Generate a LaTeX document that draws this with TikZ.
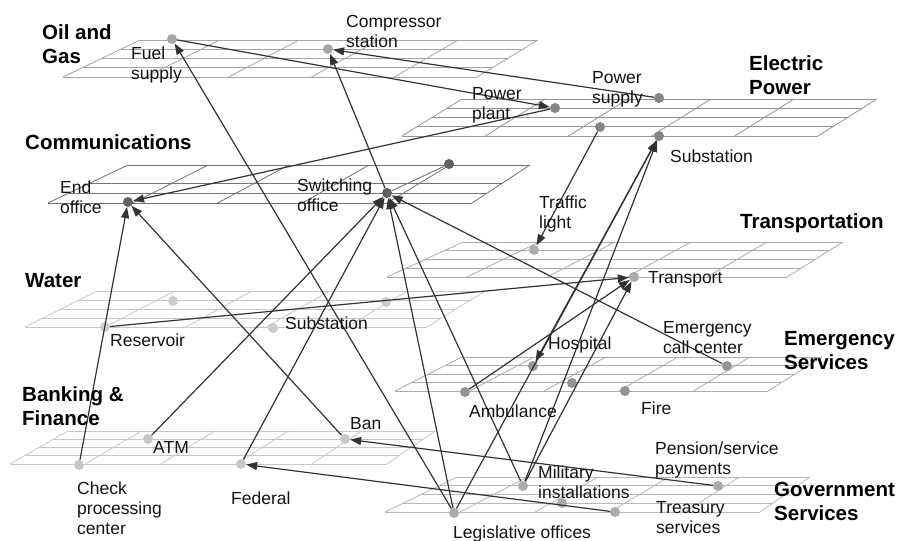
\documentclass[tikz,border=0pt]{standalone}
\usepackage{fontspec}
\setmainfont{Liberation Sans}
\usetikzlibrary{arrows.meta}
\newcommand\drawplane[8]{%
  \foreach \f in {#8}{\draw[#7] ({#1+(#4-#1)*\f},{#5+(#6-#5)*\f}) -- ({#2+(#3-#2)*\f},{#5+(#6-#5)*\f});}
  \foreach \j in {0,...,5}{\draw[#7] ({#1+(#2-#1)*\j/5},#5) -- ({#4+(#3-#4)*\j/5},#6);}
}
\tikzset{
  dot/.style={circle, fill=#1, minimum size=10pt, inner sep=0pt},
  arr/.style={draw=black!80, line width=1.2pt, -{Triangle[length=11pt,width=8pt]}},
  lbl/.style={font=\fontsize{17.5}{20}\selectfont, align=left, inner sep=0pt, anchor=west, text=black!92},
  ttl/.style={font=\fontsize{20.5}{24}\selectfont\bfseries, align=left, inner sep=0pt, anchor=west, text=black},
  grid/.style={draw=#1, line width=0.8pt}
}
\begin{document}
\begin{tikzpicture}[x=1pt,y=-1pt]
\fill[white] (0,0) rectangle (906,541);
\useasboundingbox (0,0) rectangle (906,541);
% planes: BLx, BRx, TRx, TLx, bottom y, top y, style, fractions
\drawplane{63}{477}{538}{140}{77}{40}{grid=black!35}{0,0.25,0.5,0.75,1}
\drawplane{402}{818}{877}{462}{136}{99}{grid=black!42}{0,0.25,0.5,0.75,1}
\drawplane{48}{472}{530}{128}{203}{165}{grid=black!55}{0,0.263,0.526,1}
\drawplane{387}{787}{843}{463}{277}{242}{grid=black!33}{0,0.25,0.5,0.75,1}
\drawplane{25}{427}{485}{97}{327}{291}{grid=black!22}{0,0.25,0.5,0.75,1}
\drawplane{395}{768}{822}{462}{391}{357}{grid=black!33}{0,0.25,0.5,0.75,1}
\drawplane{10}{387}{435}{68}{464}{431}{grid=black!22}{0,0.25,0.5,0.75,1}
\drawplane{385}{760}{810}{457}{512}{477}{grid=black!28}{0,0.25,0.5,0.75,1}
% dots
\node[dot=black!35] (fuel) at (172,39) {};
\node[dot=black!35] (comp) at (328,49) {};
\node[dot=black!48] (plant) at (555,108) {};
\node[dot=black!48] (psup) at (659,98) {};
\node[dot=black!48] (edot) at (600,127) {};
\node[dot=black!48] (esub) at (659,136) {};
\node[dot=black!62] (endo) at (128,202) {};
\node[dot=black!62] (swo) at (387,193) {};
\node[dot=black!62] (cdot) at (449,164) {};
\node[dot=black!33] (traffic) at (534,250) {};
\node[dot=black!33] (transp) at (634,277) {};
\node[dot=black!20] (reserv) at (105,327) {};
\node[dot=black!20] (wdot1) at (173,301) {};
\node[dot=black!20] (wsub) at (273,328) {};
\node[dot=black!20] (wdot2) at (386,302) {};
\node[dot=black!42] (hosp) at (533,366) {};
\node[dot=black!42] (emdot) at (572,383) {};
\node[dot=black!42] (amb) at (465,392) {};
\node[dot=black!42] (fire) at (625,391) {};
\node[dot=black!42] (call) at (727,366) {};
\node[dot=black!22] (check) at (79,465) {};
\node[dot=black!22] (atm) at (148,439) {};
\node[dot=black!22] (fed) at (241,464) {};
\node[dot=black!22] (ban) at (345,439) {};
\node[dot=black!33] (mil) at (523,486) {};
\node[dot=black!33] (legis) at (454,513) {};
\node[dot=black!33] (gdot) at (562,503) {};
\node[dot=black!33] (treas) at (615,512) {};
\node[dot=black!33] (pens) at (718,486) {};
% gray link in communications
\draw[draw=black!55, line width=0.9pt] (swo) -- (cdot);
% connectors
\draw[arr] (psup) -- (comp);
\draw[arr] (fuel) -- (plant);
\draw[arr] (plant) -- (endo);
\draw[arr] (legis) -- (fuel);
\draw[arr] (swo) -- (comp);
\draw[arr] (edot) -- (traffic);
\draw[arr] (legis) -- (esub);
\draw[arr] (mil) -- (esub);
\draw[arr] (esub) -- (hosp);
\draw[arr] (amb) -- (transp);
\draw[arr] (mil) -- (transp);
\draw[arr] (reserv) -- (transp);
\draw[arr] (mil) -- (swo);
\draw[arr] (legis) -- (swo);
\draw[arr] (call) -- (swo);
\draw[arr] (atm) -- (swo);
\draw[arr] (fed) -- (swo);
\draw[arr] (ban) -- (endo);
\draw[arr] (check) -- (endo);
\draw[arr] (pens) -- (ban);
\draw[arr] (treas) -- (fed);
% titles
\node[ttl] (t1) at (42,44) {Oil and\\Gas};
\node[ttl] (t2) at (749,75) {Electric\\Power};
\node[ttl] (t3) at (25,142) {Communications};
\node[ttl] (t4) at (740,223) {Transportation};
\node[ttl] (t5) at (25,281) {Water};
\node[ttl] (t6) at (784,351) {Emergency\\Services};
\node[ttl] (t7) at (22,406) {Banking \&\\Finance};
\node[ttl] (t8) at (774,501) {Government\\Services};
% labels
\node[lbl] (l1) at (346,31) {Compressor\\station};
\node[lbl] (l2) at (131,65) {Fuel\\supply};
\node[lbl] (l3) at (472,105) {Power\\plant};
\node[lbl] (l4) at (592,89) {Power\\supply};
\node[lbl] (l5) at (670,156) {Substation};
\node[lbl] (l6) at (60,197) {End\\office};
\node[lbl] (l7) at (297,195) {Switching\\office};
\node[lbl] (l8) at (539,214) {Traffic\\light};
\node[lbl] (l9) at (648,279) {Transport};
\node[lbl] (l10) at (110,340) {Reservoir};
\node[lbl] (l11) at (285,323) {Substation};
\node[lbl] (l12) at (548,345) {Hospital};
\node[lbl] (l13) at (663,338) {Emergency\\call center};
\node[lbl] (l14) at (469,411) {Ambulance};
\node[lbl] (l15) at (641,408) {Fire};
\node[lbl] (l16) at (153,447) {ATM};
\node[lbl] (l17) at (350,424) {Ban};
\node[lbl] (l18) at (231,498) {Federal};
\node[lbl] (l19) at (77,508) {Check\\processing\\center};
\node[lbl] (l20) at (538,482) {Military\\installations};
\node[lbl] (l21) at (453,534) {Legislative offices};
\node[lbl] (l22) at (656,518) {Treasury\\services};
\node[lbl] (l23) at (655,460) {Pension/service\\payments};
\end{tikzpicture}
\end{document}
